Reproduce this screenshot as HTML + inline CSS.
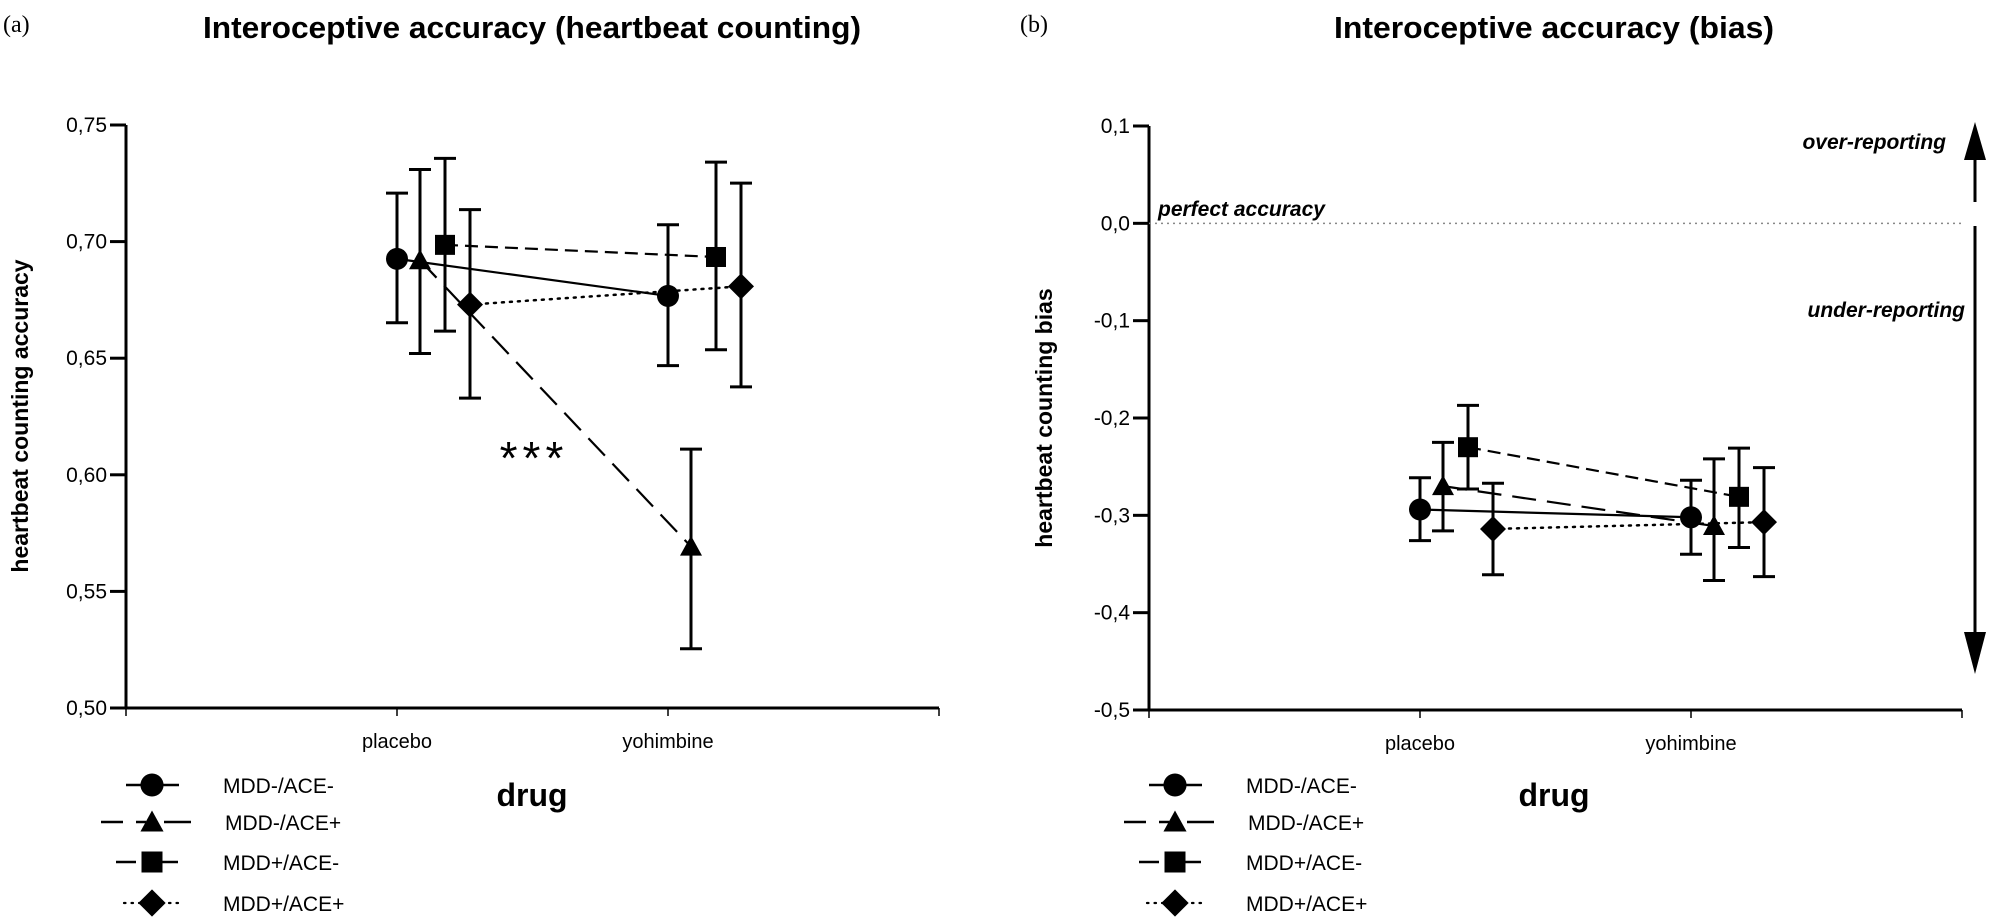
<!DOCTYPE html>
<html><head><meta charset="utf-8"><style>
html,body{margin:0;padding:0;background:#fff;}
svg{display:block;font-family:"Liberation Sans",Arial,sans-serif;}
</style></head><body>
<svg id="fig" width="1989" height="920" viewBox="0 0 1989 920" xmlns="http://www.w3.org/2000/svg"></svg>
<script>
// ---- data ----
const categories = ["placebo", "yohimbine"];
const seriesNames = ["MDD-/ACE-", "MDD-/ACE+", "MDD+/ACE-", "MDD+/ACE+"];
// panel a: heartbeat counting accuracy
const accMean = [[0.6926, 0.6767], [0.692, 0.5692], [0.6986, 0.6934], [0.673, 0.6808]];
const accHigh = [[0.7208, 0.7072], [0.7309, 0.611], [0.7357, 0.7341], [0.7137, 0.7251]];
const accLow  = [[0.6652, 0.6468], [0.652, 0.5254], [0.6616, 0.6536], [0.6329, 0.6377]];
const accTicks = [0.50, 0.55, 0.60, 0.65, 0.70, 0.75];
const accTickLabels = ["0,50", "0,55", "0,60", "0,65", "0,70", "0,75"];
// panel b: heartbeat counting bias
const biasMean = [[-0.294, -0.302], [-0.270, -0.311], [-0.230, -0.281], [-0.314, -0.307]];
const biasHigh = [[-0.2614, -0.264], [-0.225, -0.242], [-0.187, -0.231], [-0.267, -0.251]];
const biasLow  = [[-0.326, -0.340], [-0.316, -0.367], [-0.273, -0.333], [-0.361, -0.363]];
const biasTicks = [-0.5, -0.4, -0.3, -0.2, -0.1, 0.0, 0.1];
const biasTickLabels = ["-0,5", "-0,4", "-0,3", "-0,2", "-0,1", "0,0", "0,1"];

const NS = "http://www.w3.org/2000/svg";
const svg = document.getElementById("fig");
function mk(tag, attrs, parent, text) {
  const e = document.createElementNS(NS, tag);
  for (const k in attrs) e.setAttribute(k, attrs[k]);
  if (text !== undefined) e.textContent = text;
  (parent || svg).appendChild(e);
  return e;
}
const dashes = ["", "24,11", "13,7", "2,6"];
const offsets = [0, 23, 48, 73];

function marker(g, kind, cx, cy, s) {
  let m;
  if (kind === 0) m = mk("circle", {cx: cx, cy: cy, r: 11 * s, fill: "#000"}, g);
  else if (kind === 1) m = mk("polygon", {points: `${cx},${cy - 11 * s} ${cx - 11 * s},${cy + 9 * s} ${cx + 11 * s},${cy + 9 * s}`, fill: "#000"}, g);
  else if (kind === 2) m = mk("rect", {x: cx - 10 * s, y: cy - 10 * s, width: 20 * s, height: 20 * s, fill: "#000"}, g);
  else m = mk("polygon", {points: `${cx},${cy - 13 * s} ${cx + 13 * s},${cy} ${cx},${cy + 13 * s} ${cx - 13 * s},${cy}`, fill: "#000"}, g);
  return m;
}

function panel(o) {
  const g = mk("g", {});
  
  
  const yScale = v => o.yBot - (v - o.vMin) / (o.vMax - o.vMin) * (o.yBot - o.yTop);
  const xScale = i => o.catX[i];
  const lt = mk("text", {x: o.x0 + 3, y: 32, "font-family": "Liberation Serif,serif", "font-size": 24}, g, o.letter);
  
  
  const tt = mk("text", {x: o.titleX, y: 38, "text-anchor": "middle", "font-weight": "bold", "font-size": 31, textLength: o.titleW, lengthAdjust: "spacingAndGlyphs"}, g, o.title);
  
  
  const ya = mk("line", {x1: o.axX, y1: o.yTop, x2: o.axX, y2: o.yBot, stroke: "#000", "stroke-width": 3}, g);
  
  
  const xa = mk("line", {x1: o.axX - 1, y1: o.yBot, x2: o.xEnd, y2: o.yBot, stroke: "#000", "stroke-width": 3}, g);
  
  
  o.ticks.forEach((t, i) => {
    const y = yScale(t);
    mk("line", {x1: o.axX - 16, y1: y, x2: o.axX, y2: y, stroke: "#000", "stroke-width": 3}, g);
    const tl = mk("text", {x: o.axX - 19, y: y + 7, "text-anchor": "end", "font-size": 21}, g, o.tickLabels[i]);
    
    
  });
  [o.axX, o.catX[0], o.catX[1], o.xEnd].forEach(x => mk("line", {x1: x, y1: o.yBot, x2: x, y2: o.yBot + 8, stroke: "#000", "stroke-width": 1.5}, g));
  categories.forEach((c, i) => {
    const cl = mk("text", {x: xScale(i), y: o.yBot + 40, "text-anchor": "middle", "font-size": 20}, g, c);
    
    
  });
  const yt = mk("text", {x: 0, y: 0, transform: `translate(${o.yTitleX},${o.yTitleY}) rotate(-90)`, "text-anchor": "middle", "font-weight": "bold", "font-size": 23}, g, o.yTitle);
  
  
  const xt = mk("text", {x: o.titleX, y: 806, "text-anchor": "middle", "font-weight": "bold", "font-size": 32}, g, "drug");
  
  
  if (o.extra) o.extra(g, yScale);
  for (let s = 0; s < 4; s++) {
    const sg = mk("g", {}, g);
    
    
    const pts = o.mean[s].map((v, i) => [xScale(i) + offsets[s], yScale(v)]);
    const ln = mk("line", {x1: pts[0][0], y1: pts[0][1], x2: pts[1][0], y2: pts[1][1], stroke: "#000", "stroke-width": s === 3 ? 2.5 : 2.2, "stroke-dasharray": dashes[s], "stroke-linecap": s === 3 ? "round" : "butt"}, sg);
    
    
    for (let i = 0; i < 2; i++) {
      const x = pts[i][0], yh = yScale(o.high[s][i]), yl = yScale(o.low[s][i]);
      const eb = mk("path", {d: `M${x},${yh}V${yl}M${x - 11},${yh}H${x + 11}M${x - 11},${yl}H${x + 11}`, stroke: "#000", "stroke-width": 3, fill: "none"}, sg);
      
      
      const m = marker(sg, s, x, pts[i][1], 1);
      
      
    }
  }
  const rows = [785, 822, 862, 903];
  const lx = o.legX;
  const segs = [[[0, 53]], [[-25, -3], [10, 20], [38, 65]], [[-10, 10], [36, 52]], [[-2, 52]]];
  for (let s = 0; s < 4; s++) {
    const lg = mk("g", {}, g);
    
    
    const y = rows[s];
    segs[s].forEach(sg2 => mk("line", {x1: lx + sg2[0], y1: y, x2: lx + sg2[1], y2: y, stroke: "#000", "stroke-width": s === 3 ? 2.2 : 2.5, "stroke-dasharray": s === 3 ? "1.5,6" : "", "stroke-linecap": s === 3 ? "round" : "butt"}, lg));
    marker(lg, s, lx + 26, y, 1.05);
    mk("text", {x: lx + 97 + (s === 1 ? 2 : 0), y: y + 8, "font-size": 21}, lg, seriesNames[s]);
  }
}

panel({name: "panel-a-accuracy", letter: "(a)", title: "Interoceptive accuracy (heartbeat counting)", titleX: 532, titleW: 658, x0: 0,
  axX: 126, xEnd: 939, yTop: 125, yBot: 708, vMin: 0.50, vMax: 0.75, catX: [397, 668],
  ticks: accTicks, tickLabels: accTickLabels, mean: accMean, high: accHigh, low: accLow,
  yTitle: "heartbeat counting accuracy", yTitleX: 28, yTitleY: 416, legX: 126,
  extra: (g, yS) => {
    const st = mk("text", {x: 534, y: 474, "text-anchor": "middle", "font-size": 46, "letter-spacing": 5}, g, "***");
    
    
  }});

panel({name: "panel-b-bias", letter: "(b)", title: "Interoceptive accuracy (bias)", titleX: 1554, titleW: 440, x0: 1017,
  axX: 1149, xEnd: 1962, yTop: 126, yBot: 710, vMin: -0.5, vMax: 0.1, catX: [1420, 1691],
  ticks: biasTicks, tickLabels: biasTickLabels, mean: biasMean, high: biasHigh, low: biasLow,
  yTitle: "heartbeat counting bias", yTitleX: 1052, yTitleY: 418, legX: 1149,
  extra: (g, yS) => {
    const y0 = yS(0);
    const dl = mk("line", {x1: 1149, y1: y0, x2: 1962, y2: y0, stroke: "#888", "stroke-width": 1.5, "stroke-dasharray": "2,4"}, g);
    
    
    const pa = mk("text", {x: 1158, y: 216, "font-weight": "bold", "font-style": "italic", "font-size": 21}, g, "perfect accuracy");
    
    
    const ov = mk("text", {x: 1946, y: 149, "text-anchor": "end", "font-weight": "bold", "font-style": "italic", "font-size": 21}, g, "over-reporting");
    
    
    const un = mk("text", {x: 1965, y: 317, "text-anchor": "end", "font-weight": "bold", "font-style": "italic", "font-size": 21}, g, "under-reporting");
    
    
    const ax = 1975;
    const a1 = mk("g", {}, g);
    
    
    mk("line", {x1: ax, y1: 150, x2: ax, y2: 202, stroke: "#000", "stroke-width": 3}, a1);
    mk("polygon", {points: `${ax},122 ${ax - 11},160 ${ax + 11},160`, fill: "#000"}, a1);
    const a2 = mk("g", {}, g);
    
    
    mk("line", {x1: ax, y1: 226, x2: ax, y2: 640, stroke: "#000", "stroke-width": 3}, a2);
    mk("polygon", {points: `${ax},674 ${ax - 11},632 ${ax + 11},632`, fill: "#000"}, a2);
  }});
</script>
</body></html>
